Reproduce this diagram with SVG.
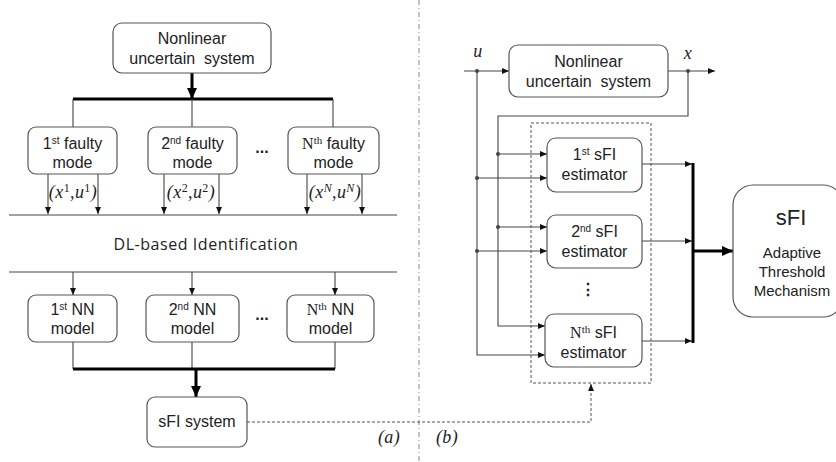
<svg xmlns="http://www.w3.org/2000/svg" width="836" height="462" viewBox="0 0 836 462">
<style>
.box{fill:#fff;stroke:#555;stroke-width:1.2}
.t{font-family:"Liberation Sans",Arial,sans-serif;font-size:16px;fill:#222;text-anchor:middle}
.r{font-size:15px}
.m{font-family:"Liberation Serif","DejaVu Serif",serif;font-style:italic;font-size:18px;fill:#222;text-anchor:middle;letter-spacing:0.4px}
.sup{font-size:12px;font-style:normal}
.supi{font-size:12px}
.n{font-family:"Liberation Serif","DejaVu Serif",serif}
.ln{fill:none;stroke:#444;stroke-width:1.1}
.thick{fill:none;stroke:#000;stroke-width:3}
.dash{fill:none;stroke:#555;stroke-width:1;stroke-dasharray:3,2}
.dot{fill:#444}
</style>
<defs>
<marker id="a" markerUnits="userSpaceOnUse" markerWidth="8" markerHeight="8" refX="7" refY="4" orient="auto"><path d="M0,1 L7,4 L0,7 Z" fill="#111"/></marker>
<marker id="A" markerUnits="userSpaceOnUse" markerWidth="12" markerHeight="12" refX="11" refY="6" orient="auto"><path d="M0,1 L11,6 L0,11 Z" fill="#000"/></marker>
</defs>
<rect width="836" height="462" fill="#fff"/>

<g id="divider"><line x1="419" y1="0" x2="419" y2="462" stroke="#888" stroke-width="1" stroke-dasharray="5,3,1,3"/></g>

<g id="connectors">
<line class="thick" x1="192" y1="73" x2="192" y2="99" marker-end="url(#A)"/>
<line class="thick" x1="73" y1="99" x2="333" y2="99"/>
<path class="ln" d="M73,99 V127 M192,99 V127 M333,99 V127"/>
<line class="ln" x1="48" y1="174" x2="48" y2="214" marker-end="url(#a)"/>
<line class="ln" x1="98" y1="174" x2="98" y2="214" marker-end="url(#a)"/>
<line class="ln" x1="164" y1="174" x2="164" y2="214" marker-end="url(#a)"/>
<line class="ln" x1="219" y1="174" x2="219" y2="214" marker-end="url(#a)"/>
<line class="ln" x1="307" y1="174" x2="307" y2="214" marker-end="url(#a)"/>
<line class="ln" x1="362" y1="174" x2="362" y2="214" marker-end="url(#a)"/>
<line x1="9" y1="215" x2="397" y2="215" stroke="#444" stroke-width="1.1"/>
<line x1="9" y1="272" x2="397" y2="272" stroke="#444" stroke-width="1.1"/>
<line class="ln" x1="73" y1="272" x2="73" y2="295" marker-end="url(#a)"/>
<line class="ln" x1="192" y1="272" x2="192" y2="295" marker-end="url(#a)"/>
<line class="ln" x1="335" y1="272" x2="335" y2="295" marker-end="url(#a)"/>
<path class="ln" d="M73,342 V369 M192,342 V369 M335,342 V369"/>
<line class="thick" x1="73" y1="369" x2="335" y2="369"/>
<line class="thick" x1="196" y1="369" x2="196" y2="397" marker-end="url(#A)"/>
<path class="dash" d="M247,422 H591 V384" marker-end="url(#a)"/>
<line class="ln" x1="464" y1="71" x2="509" y2="71" marker-end="url(#a)"/>
<line class="ln" x1="668" y1="71" x2="715" y2="71" marker-end="url(#a)"/>
<path class="ln" d="M688,71 V116 H498 V326 H545" marker-end="url(#a)"/>
<path class="ln" d="M477,71 V355 H545" marker-end="url(#a)"/>
<line class="ln" x1="498" y1="154" x2="547" y2="154" marker-end="url(#a)"/>
<line class="ln" x1="477" y1="178" x2="547" y2="178" marker-end="url(#a)"/>
<line class="ln" x1="498" y1="227" x2="547" y2="227" marker-end="url(#a)"/>
<line class="ln" x1="477" y1="251" x2="547" y2="251" marker-end="url(#a)"/>
<line class="ln" x1="642" y1="164" x2="692" y2="164" marker-end="url(#a)"/>
<line class="ln" x1="642" y1="241" x2="692" y2="241" marker-end="url(#a)"/>
<line class="ln" x1="642" y1="341" x2="692" y2="341" marker-end="url(#a)"/>
<line class="thick" x1="693" y1="163" x2="693" y2="343"/>
<line class="thick" x1="693" y1="251" x2="733" y2="251" marker-end="url(#A)"/>
<circle class="dot" cx="477" cy="71" r="2"/>
<circle class="dot" cx="688" cy="71" r="2"/>
<circle class="dot" cx="498" cy="154" r="2"/>
<circle class="dot" cx="477" cy="178" r="2"/>
<circle class="dot" cx="498" cy="227" r="2"/>
<circle class="dot" cx="477" cy="251" r="2"/>
<rect class="dash" x="531" y="123" width="120" height="260"/>
</g>

<g id="sys-a"><rect class="box" x="113" y="23" width="158" height="50" rx="9"/>
<text class="t" x="192" y="44">Nonlinear</text><text class="t" x="192" y="64" style="white-space:pre">uncertain  system</text></g>

<g id="fm1"><rect class="box" x="28" y="127" width="89" height="47" rx="8"/>
<text class="t" x="72.5" y="149">1<tspan font-size="10" dy="-5">st</tspan><tspan dy="5"> faulty</tspan></text><text class="t" x="72.5" y="168">mode</text>
<text class="m" x="73" y="198">(x<tspan class="sup" dy="-6">1</tspan><tspan dy="6">,u</tspan><tspan class="sup" dy="-6">1</tspan><tspan dy="6">)</tspan></text></g>

<g id="fm2"><rect class="box" x="148" y="127" width="89" height="47" rx="8"/>
<text class="t" x="192.5" y="149">2<tspan font-size="10" dy="-5">nd</tspan><tspan dy="5"> faulty</tspan></text><text class="t" x="192.5" y="168">mode</text>
<text class="m" x="191" y="198">(x<tspan class="sup" dy="-6">2</tspan><tspan dy="6">,u</tspan><tspan class="sup" dy="-6">2</tspan><tspan dy="6">)</tspan></text></g>

<g id="dots-a1"><text class="t" x="262" y="153" font-weight="bold">...</text></g>

<g id="fmN"><rect class="box" x="288" y="127" width="91" height="47" rx="8"/>
<text class="t" x="333.5" y="149"><tspan class="n">N</tspan><tspan class="n" font-size="11" dy="-5">th</tspan><tspan dy="5"> faulty</tspan></text><text class="t" x="333.5" y="168">mode</text>
<text class="m" x="335" y="198">(x<tspan class="supi" dy="-6">N</tspan><tspan dy="6">,u</tspan><tspan class="supi" dy="-6">N</tspan><tspan dy="6">)</tspan></text></g>

<g id="dl"><text x="206" y="250" text-anchor="middle" font-family="'Open Sans','DejaVu Sans',sans-serif" font-size="16" letter-spacing="0.55" fill="#222">DL-based Identification</text></g>

<g id="nn1"><rect class="box" x="28" y="295" width="89" height="47" rx="8"/>
<text class="t" x="72.5" y="315">1<tspan font-size="10" dy="-5">st</tspan><tspan dy="5"> NN</tspan></text><text class="t" x="72.5" y="334">model</text></g>
<g id="nn2"><rect class="box" x="146" y="295" width="93" height="47" rx="8"/>
<text class="t" x="192.5" y="315">2<tspan font-size="10" dy="-5">nd</tspan><tspan dy="5"> NN</tspan></text><text class="t" x="192.5" y="334">model</text></g>
<g id="dots-a2"><text class="t" x="262" y="320" font-weight="bold">...</text></g>
<g id="nnN"><rect class="box" x="287" y="295" width="87" height="47" rx="8"/>
<text class="t" x="330.5" y="315"><tspan class="n">N</tspan><tspan class="n" font-size="11" dy="-5">th</tspan><tspan dy="5"> NN</tspan></text><text class="t" x="330.5" y="334">model</text></g>

<g id="sfisys"><rect class="box" x="147" y="397" width="100" height="50" rx="8"/>
<text class="t" x="197" y="427">sFI system</text></g>

<g id="lab-a"><text class="m" x="389" y="443">(a)</text></g>
<g id="lab-b"><text class="m" x="447" y="443">(b)</text></g>

<g id="lab-u"><text class="m" x="478" y="57">u</text></g>
<g id="lab-x"><text class="m" x="688" y="59">x</text></g>

<g id="sys-b"><rect class="box" x="509" y="45" width="159" height="52" rx="9"/>
<text class="t" x="588.5" y="67">Nonlinear</text><text class="t" x="588.5" y="87" style="white-space:pre">uncertain  system</text></g>

<g id="est1"><rect class="box" x="547" y="138" width="95" height="54" rx="9"/>
<text class="t" x="594.5" y="160">1<tspan font-size="10" dy="-5">st</tspan><tspan dy="5"> sFI</tspan></text><text class="t" x="594.5" y="180">estimator</text></g>
<g id="est2"><rect class="box" x="547" y="215" width="95" height="53" rx="9"/>
<text class="t" x="594.5" y="237">2<tspan font-size="10" dy="-5">nd</tspan><tspan dy="5"> sFI</tspan></text><text class="t" x="594.5" y="257">estimator</text></g>
<g id="vdots"><text class="t" x="588" y="295" font-weight="bold">⋮</text></g>
<g id="estN"><rect class="box" x="545" y="314" width="97" height="53" rx="9"/>
<text class="t" x="593.5" y="338"><tspan class="n">N</tspan><tspan class="n" font-size="11" dy="-5">th</tspan><tspan dy="5"> sFI</tspan></text><text class="t" x="593.5" y="358">estimator</text></g>

<g id="atm"><rect class="box" x="733" y="185" width="110" height="132" rx="20"/>
<text class="t" x="791" y="225" style="font-size:22px">sFI</text>
<text class="t r" x="792" y="258">Adaptive</text>
<text class="t r" x="792" y="277">Threshold</text>
<text class="t r" x="792" y="296">Mechanism</text></g>
</svg>
